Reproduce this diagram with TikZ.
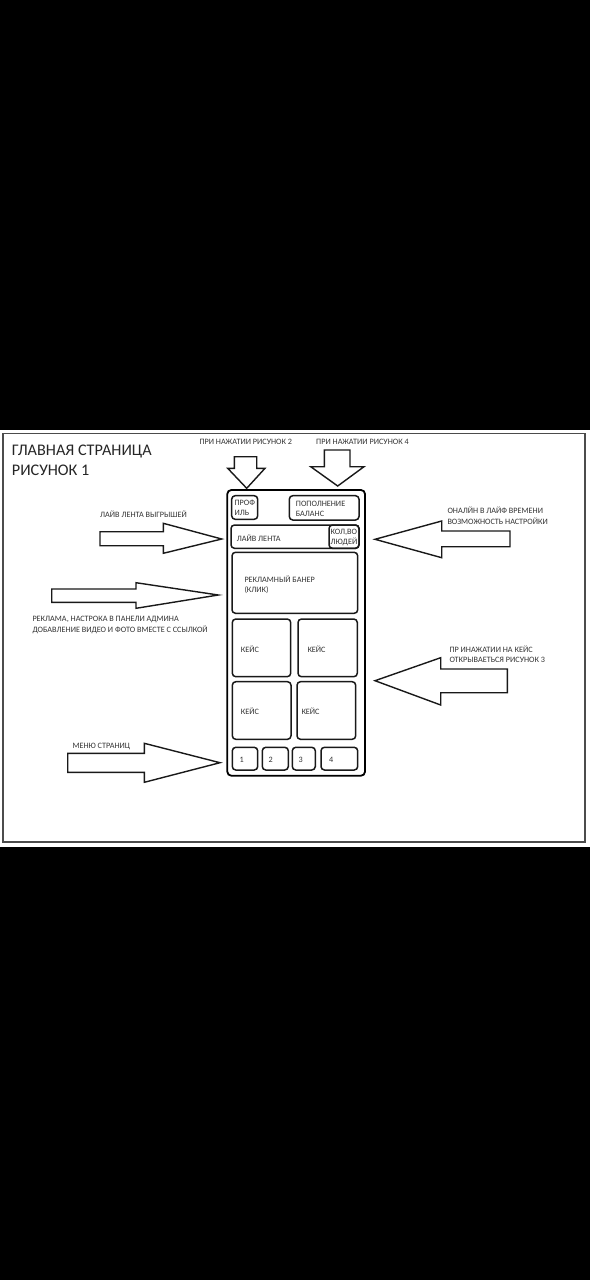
\documentclass[tikz,border=0pt]{standalone}
\usepackage{fontspec}
\setmainfont{Carlito}
\begin{document}
\begin{tikzpicture}[x=1pt,y=-1pt,
  frame/.style={draw=black!70,line width=1.8pt},
  phone/.style={draw=black,line width=1.8pt,rounded corners=4pt},
  box/.style={draw=black!90,line width=1.5pt,rounded corners=3.5pt},
  arr/.style={draw=black!90,fill=white,line width=1.4pt,line join=miter},
  sm/.style={font=\fontsize{8.2}{9}\selectfont,text=black!80,inner sep=0pt},
  ttl/.style={font=\fontsize{16.2}{19}\selectfont,text=black!85,inner sep=0pt}]
\useasboundingbox (0,0) rectangle (590,1280);
\fill[black] (0,0) rectangle (590,1280);
\fill[white] (0,430) rectangle (590,847);
\draw[frame] (3,433.5) rectangle (585,842);

% title
\node[ttl,anchor=base west] (title1) at (11.7,455.5) {ГЛАВНАЯ СТРАНИЦА};
\node[ttl,anchor=base west] (title2) at (11.7,475.5) {РИСУНОК 1};

% phone
\draw[phone] (227.3,490) rectangle (365,775.7);
\draw[box] (231.7,495.7) rectangle (257.7,519.3);
\draw[box] (289.3,495.7) rectangle (359,520);
\draw[box] (231,525) rectangle (359,548.3);
\draw[box] (329,525) rectangle (359,548.3);
\draw[box] (232,552.3) rectangle (357.7,613.3);
\draw[box] (232.3,619) rectangle (290.7,676.7);
\draw[box] (298,619) rectangle (357.3,676.7);
\draw[box] (232.3,681.7) rectangle (291,739.3);
\draw[box] (297,681.7) rectangle (355.7,739.3);
\draw[box] (232.3,747.3) rectangle (257.7,770);
\draw[box] (262.3,747.3) rectangle (288.3,770);
\draw[box] (292.3,747.3) rectangle (315.3,770);
\draw[box] (321,747.3) rectangle (357.7,770);

\node[sm,anchor=base west] (prof1) at (234.3,505) {ПРОФ};
\node[sm,anchor=base west] (prof2) at (234.3,515.3) {ИЛЬ};
\node[sm,anchor=base west] (pop1) at (295.7,506.5) {ПОПОЛНЕНИЕ};
\node[sm,anchor=base west] (pop2) at (295.7,516.5) {БАЛАНС};
\node[sm,anchor=base west] (live) at (236.7,541) {ЛАЙВ ЛЕНТА};
\node[sm,anchor=base west] (kol1) at (330.5,534.8) {КОЛ,ВО};
\node[sm,anchor=base west] (kol2) at (330.5,544.8) {ЛЮДЕЙ};
\node[sm,anchor=base west] (ban1) at (244.3,582.5) {РЕКЛАМНЫЙ БАНЕР};
\node[sm,anchor=base west] (ban2) at (244.3,592.5) {(КЛИК)};
\node[sm,anchor=base west] (c1) at (240.7,652.5) {КЕЙС};
\node[sm,anchor=base west] (c2) at (307.3,652.5) {КЕЙС};
\node[sm,anchor=base west] (c3) at (240.7,714.8) {КЕЙС};
\node[sm,anchor=base west] (c4) at (301.3,714.8) {КЕЙС};
\node[sm,anchor=base west] (b1) at (239.3,762.5) {1};
\node[sm,anchor=base west] (b2) at (268.3,762.5) {2};
\node[sm,anchor=base west] (b3) at (298.3,762.5) {3};
\node[sm,anchor=base west] (b4) at (329,762.5) {4};

% down arrows
\draw[arr] (234.3,456.7) -- (256.7,456.7) -- (256.7,468.3) -- (265,468.3) -- (246.7,488.3) -- (227.7,468.3) -- (234.3,468.3) -- cycle;
\draw[arr] (324.3,450) -- (350,450) -- (350,466.7) -- (364,466.7) -- (337.7,486) -- (310.7,466.7) -- (324.3,466.7) -- cycle;
\node[sm,anchor=base] (lab2) at (245.8,444) {ПРИ НАЖАТИИ РИСУНОК 2};
\node[sm,anchor=base] (lab4) at (362.5,444.8) {ПРИ НАЖАТИИ РИСУНОК 4};

% left arrows (pointing right)
\draw[arr] (100,531.7) -- (163.3,531.7) -- (163.3,523.3) -- (221.7,539) -- (163.3,553.3) -- (163.3,545.7) -- (100,545.7) -- cycle;
\node[sm,anchor=base west] (livelab) at (100,517.2) {ЛАЙВ ЛЕНТА ВЫГРЫШЕЙ};

\draw[arr] (51.7,589) -- (136,589) -- (136,582.7) -- (218.3,595) -- (136,608.3) -- (136,602.3) -- (51.7,602.3) -- cycle;
\node[sm,anchor=base west] (adlab1) at (32.3,621.5) {РЕКЛАМА, НАСТРОКА В ПАНЕЛИ АДМИНА};
\node[sm,anchor=base west] (adlab2) at (32.3,632) {ДОБАВЛЕНИЕ ВИДЕО И ФОТО ВМЕСТЕ С ССЫЛКОЙ};

\draw[arr] (67.7,753.3) -- (144.3,753.3) -- (144.3,743.3) -- (220,762.7) -- (144.3,782.3) -- (144.3,772.3) -- (67.7,772.3) -- cycle;
\node[sm,anchor=base west] (menulab) at (72.3,748) {МЕНЮ СТРАНИЦ};

% right arrows (pointing left)
\draw[arr] (510,531) -- (441.7,531) -- (441.7,521) -- (375,539.3) -- (441.7,557.7) -- (441.7,546.7) -- (510,546.7) -- cycle;
\node[sm,anchor=base west] (onl1) at (447.3,513.3) {ОНАЛЙН В ЛАЙФ ВРЕМЕНИ};
\node[sm,anchor=base west] (onl2) at (447.3,524) {ВОЗМОЖНОСТЬ НАСТРОЙКИ};

\draw[arr] (507.3,669) -- (440.7,669) -- (440.7,657.7) -- (375,680.7) -- (440.7,705) -- (440.7,692.7) -- (507.3,692.7) -- cycle;
\node[sm,anchor=base west] (case1) at (449.3,652.2) {ПР ИНАЖАТИИ НА КЕЙС};
\node[sm,anchor=base west] (case2) at (449.3,662.5) {ОТКРЫВАЕТЬСЯ РИСУНОК 3};
\end{tikzpicture}
\end{document}
